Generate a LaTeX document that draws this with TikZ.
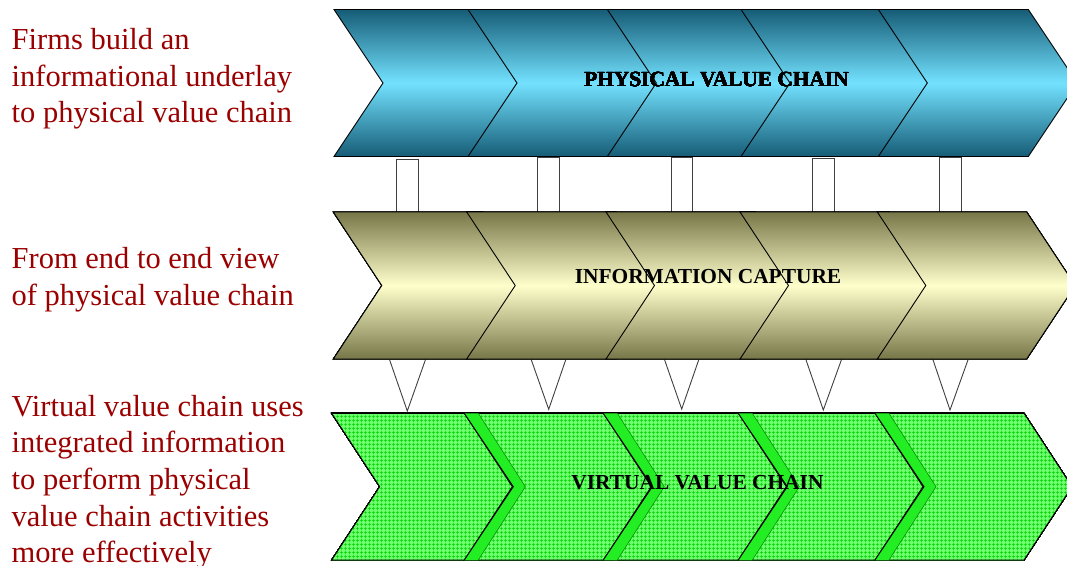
\documentclass[tikz,border=0pt]{standalone}
\usepackage{fontspec}
\setmainfont{Liberation Serif}
\usetikzlibrary{patterns.meta}
\definecolor{tealdark}{RGB}{22,92,118}
\definecolor{teallight}{RGB}{115,226,255}
\definecolor{olivedark}{RGB}{118,118,72}
\definecolor{olivelight}{RGB}{255,255,204}
\definecolor{lgreen}{RGB}{110,255,110}
\definecolor{ggreen}{RGB}{0,205,0}
\definecolor{bgreen}{RGB}{35,238,35}
\definecolor{dgreen}{RGB}{0,130,0}
\definecolor{txtred}{RGB}{155,0,0}
\tikzdeclarepattern{
  name=vgrid,
  type=uncolored,
  bounding box={(0pt,0pt) and (4pt,4pt)},
  tile size={(4pt,4pt)},
  code={\draw[line width=0.7pt] (0pt,2pt) -- (4pt,2pt) (2pt,0pt) -- (2pt,4pt);}
}
% #1 x0, #2 ytop, #3 ybottom, #4 width, #5 depth, #6 style
\newcommand\chevshape[6]{%
  \path[#6] (#1,#2) -- ({#1+#4},#2) -- ({#1+#4+#5},{(#2+#3)/2}) -- ({#1+#4},#3)
    -- (#1,#3) -- ({#1+#5},{(#2+#3)/2}) -- cycle;}
% #1 x0 : band on the left of a virtual chevron
\newcommand\chevband[1]{%
  \path[fill=bgreen] (#1,413.3) -- ({#1+49},486.7) -- (#1,560) -- ({#1+14},560)
    -- ({#1+61},486.7) -- ({#1+14},413.3) -- cycle;
  \draw[dgreen,line width=0.5pt] ({#1+14},413.3) -- ({#1+61},486.7) -- ({#1+14},560);
  \draw[outl] (#1,413.3) -- ({#1+49},486.7) -- (#1,560);}
\tikzset{
  outl/.style={draw=black,line width=0.9pt,line join=miter},
  physrow/.style={outl,top color=tealdark,bottom color=tealdark,middle color=teallight},
  inforow/.style={outl,top color=olivedark,bottom color=olivedark,middle color=olivelight},
  virtrow/.style={outl,preaction={fill=lgreen},pattern=vgrid,pattern color=ggreen},
  linkbox/.style={draw=black!75,fill=white,line width=0.9pt},
  lefttxt/.style={anchor=base west,align=left,inner sep=0pt,text=txtred,
    font=\fontsize{30.5}{36.7}\selectfont},
  rowlabel/.style={anchor=base,inner sep=0pt,font=\fontsize{21.4}{24}\selectfont\bfseries}
}
\begin{document}
\begin{tikzpicture}[x=1pt,y=-1pt]
\clip (0,0) rectangle (1067,565);
\fill[white] (0,0) rectangle (1067,565);
% links between rows
\foreach \a/\b/\t in {396.3/418.3/159.3, 537.7/559.7/157.5, 671/692.7/157.5, 812.7/834.3/158.7, 939.7/961.3/157.5}
  \path[linkbox] (\a,\t) rectangle (\b,212);
\foreach \a/\c/\b/\ay in {389.3/407.3/425.7/411, 531/548.7/566/409.3, 664.3/681.7/699/409, 805.7/823.3/841.7/410, 932.7/950/968.3/410}
  \path[linkbox] (\a,359) -- (\c,\ay) -- (\b,359);
% physical value chain
\foreach \x in {334,468,607.3,741,878.3}
  \chevshape{\x}{9.5}{156.5}{150}{49}{physrow}
% information capture
\foreach \x in {333.3,466.7,606,740,877.3}
  \chevshape{\x}{212}{359}{149.4}{48.5}{inforow}
% virtual value chain
\chevshape{331.7}{413.3}{560}{149}{48}{virtrow}
\foreach \x in {464.3,603.3,738.3,875}{
  \chevshape{\x}{413.3}{560}{149}{48}{virtrow}
  \chevband{\x}
}
% row labels
\node[rowlabel] (lphys) at (716.5,86) {PHYSICAL VALUE CHAIN};
\node[rowlabel] (linfo) at (708,283.3) {INFORMATION CAPTURE};
\node[rowlabel] (lvirt) at (697.5,489.3) {VIRTUAL VALUE CHAIN};
% left texts (base anchor = baseline of the last line)
\node[lefttxt] (t1) at (11.5,122.7) {Firms build an\\informational underlay\\to physical value chain};
\node[lefttxt] (t2) at (11.5,305) {From end to end view\\of physical value chain};
\node[lefttxt] (t3) at (11.5,562.8) {Virtual value chain uses\\integrated information\\to perform physical\\value chain activities\\more effectively};
\end{tikzpicture}
\end{document}
